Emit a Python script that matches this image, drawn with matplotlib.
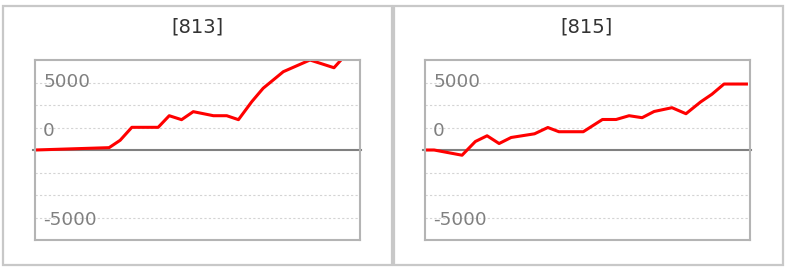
import matplotlib.pyplot as plt
from matplotlib.patches import Rectangle

# 데이터
titles = ["[813]", "[815]"]

x_813 = [0, 22.8, 26.2, 29.8, 37.9, 41.3, 45.1, 48.7, 54.9, 59.0, 62.6, 66.7, 70.2,
         76.4, 84.6, 92.0, 94.4, 98.7]
y_813 = [0, 260, 1080, 2520, 2520, 3810, 3370, 4260, 3810, 3810, 3370, 5370, 6860,
         8700, 10000, 9140, 10100, 10100]

x_815 = [0, 2.8, 11.4, 15.5, 19.1, 22.8, 26.5, 33.7, 37.8, 41.2, 48.7, 54.6, 58.8,
         62.8, 66.8, 70.5, 76.0, 80.3, 84.8, 88.3, 92.0, 98.9]
y_815 = [0, 0, -580, 945, 1580, 720, 1390, 1800, 2500, 2030, 2030, 3390, 3390,
         3810, 3590, 4280, 4700, 4030, 5340, 6200, 7330, 7330]

grid_vals = [-7500, -5000, -2500, 2500, 5000, 7500]
label_pos = [7600, 2100, -7800]
label_txt = ["5000", "0", "-5000"]

W, H = 788, 270
fig = plt.figure(figsize=(W / 100, H / 100), dpi=100)

# 패널 테두리
for x0, x1 in [(3, 392), (394, 783)]:
    fig.patches.append(Rectangle((x0 / W, 5 / H), (x1 - x0) / W, (264 - 5) / H,
                                 transform=fig.transFigure, fill=False,
                                 edgecolor="#c8c8c8", linewidth=1.6))

panels = [(35, x_813, y_813, 197), (425, x_815, y_815, 587)]
for (left, xs, ys, tx), title in zip(panels, titles):
    ax = fig.add_axes([left / W, 30 / H, 325 / W, 180 / H])
    ax.set_xlim(0, 100)
    ax.set_ylim(-10000, 10000)
    for s in ax.spines.values():
        s.set_color("#b4b4b4")
        s.set_linewidth(1.5)
        s.set_zorder(3.5)
    ax.set_xticks([])
    ax.set_yticks([])
    for g in grid_vals:
        ax.axhline(g, color="#d4d4d4", linewidth=0.8, linestyle=(0, (2, 2)), zorder=1)
    ax.axhline(0, color="#808080", linewidth=1.5, xmin=-0.006, xmax=1.003,
               clip_on=False, zorder=2)
    ax.plot(xs, ys, color="red", linewidth=2.2, zorder=3)
    for yp, t in zip(label_pos, label_txt):
        ax.text(0.025, yp, t, transform=ax.get_yaxis_transform(), va="center",
                ha="left", fontsize=13.2, color="#808080", zorder=4)
    fig.text(tx / W, 1 - 27 / H, title, ha="center", va="center",
             fontsize=14, color="#333333")

fig.savefig("out.png", dpi=100)
